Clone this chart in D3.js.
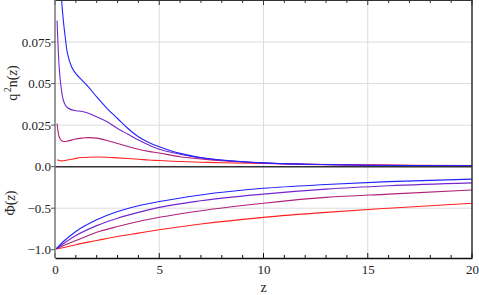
<!DOCTYPE html>
<html>
<meta charset="utf-8">
<style>
body { margin: 0; background: #fff; }
</style>
<script src="https://d3js.org/d3.v7.min.js"></script>
<body>
<div id="chart"></div>
<script>
// z grid and readings for the upper panel, q^2 n(z)
var zTop = [0.1, 0.2, 0.3, 0.4, 0.5, 0.6, 0.8, 1.0, 1.3, 1.6, 2.0, 2.5, 3.0, 3.5, 4.0, 4.5, 5, 6, 7, 8, 10, 12, 15, 20];
var nBlue    = [0.16, 0.125, 0.103, 0.088, 0.077, 0.068, 0.060, 0.056, 0.052, 0.048, 0.042, 0.035, 0.029, 0.023, 0.018, 0.0145, 0.012, 0.008, 0.0055, 0.004, 0.0023, 0.0015, 0.0009, 0.0005];
var nPurple  = [0.088, 0.06, 0.047, 0.040, 0.037, 0.0355, 0.0342, 0.0337, 0.0332, 0.0322, 0.030, 0.027, 0.023, 0.0195, 0.016, 0.013, 0.0105, 0.0075, 0.0053, 0.0039, 0.0022, 0.0015, 0.0009, 0.0005];
var nMagenta = [0.026, 0.018, 0.0158, 0.0152, 0.0152, 0.0155, 0.016, 0.0167, 0.0172, 0.0175, 0.0172, 0.0158, 0.014, 0.0121, 0.0105, 0.0092, 0.0082, 0.006, 0.0047, 0.0036, 0.0022, 0.0014, 0.0009, 0.0005];
var nRed     = [0.0042, 0.0037, 0.0035, 0.0036, 0.0038, 0.004, 0.0045, 0.005, 0.0055, 0.0057, 0.0058, 0.0057, 0.0053, 0.0049, 0.0045, 0.004, 0.0037, 0.0031, 0.0027, 0.0024, 0.0019, 0.0015, 0.0011, 0.0007];

// lower panel, Phi(z)
var zBot = [0.05, 0.5, 1, 2, 3, 4, 5, 7, 10, 13, 16, 20];
var phiBlue    = [-0.99, -0.88, -0.78, -0.64, -0.54, -0.47, -0.42, -0.34, -0.26, -0.215, -0.18, -0.15];
var phiPurple  = [-0.99, -0.91, -0.83, -0.71, -0.62, -0.55, -0.49, -0.41, -0.33, -0.27, -0.23, -0.195];
var phiMagenta = [-0.99, -0.94, -0.89, -0.79, -0.72, -0.66, -0.61, -0.53, -0.44, -0.37, -0.33, -0.28];
var phiRed     = [-0.99, -0.97, -0.94, -0.89, -0.84, -0.80, -0.76, -0.69, -0.61, -0.55, -0.50, -0.44];

var colors = ["#2222ff", "#7428cc", "#b02078", "#ff2222"];
var xTicks = [0, 5, 10, 15, 20];
var topTicks = [0.025, 0.05, 0.075];
var botTicks = [-1.0, -0.5];

var serif = "Liberation Serif";
var width = 479, height = 295;
var svg = d3.select("#chart").append("svg")
    .attr("width", width)
    .attr("height", height);

var x = d3.scaleLinear().domain([0, 20]).range([55, 472]);
var yTop = d3.scaleLinear().domain([0, 0.1]).range([166.7, 0.5]);
var yBot = d3.scaleLinear().domain([-1.1, 0]).range([258, 166.7]);

// clip for each panel
svg.append("clipPath").attr("id", "clipTop")
    .append("rect").attr("x", 55).attr("y", 0.5).attr("width", 417).attr("height", 166.2);
svg.append("clipPath").attr("id", "clipBot")
    .append("rect").attr("x", 55).attr("y", 166.7).attr("width", 417).attr("height", 91.3);

// grid lines
var grid = svg.append("g").attr("stroke", "#dcdcdc").attr("stroke-width", 1);
grid.selectAll("line.v").data(xTicks.slice(1)).enter().append("line")
    .attr("x1", d => x(d)).attr("x2", d => x(d))
    .attr("y1", 0).attr("y2", 258);
grid.selectAll("line.ht").data(topTicks).enter().append("line")
    .attr("x1", 55).attr("x2", 472)
    .attr("y1", d => yTop(d)).attr("y2", d => yTop(d));
grid.append("line")
    .attr("x1", 55).attr("x2", 472)
    .attr("y1", yBot(-0.5)).attr("y2", yBot(-0.5));

// curves
var lineTop = d3.line().x((d, i) => x(zTop[i])).y(d => yTop(d)).curve(d3.curveCatmullRom.alpha(0.5));
var lineBot = d3.line().x((d, i) => x(zBot[i])).y(d => yBot(d)).curve(d3.curveMonotoneX);

svg.append("g").attr("clip-path", "url(#clipTop)")
    .selectAll("path").data([nRed, nMagenta, nPurple, nBlue]).enter().append("path")
    .attr("fill", "none")
    .attr("stroke", (d, i) => colors[3 - i])
    .attr("stroke-width", 1.1)
    .attr("d", lineTop);

svg.append("g").attr("clip-path", "url(#clipBot)")
    .selectAll("path").data([phiRed, phiMagenta, phiPurple, phiBlue]).enter().append("path")
    .attr("fill", "none")
    .attr("stroke", (d, i) => colors[3 - i])
    .attr("stroke-width", 1.1)
    .attr("d", lineBot);

// frame: top, right, zero line, bottom axis, left axis
var minor = d3.range(0, 21, 1);
svg.append("line").attr("x1", 55).attr("x2", 472).attr("y1", 0.5).attr("y2", 0.5)
    .attr("stroke", "#333").attr("stroke-width", 1.2);
svg.append("line").attr("x1", 472).attr("x2", 472).attr("y1", 0).attr("y2", 258)
    .attr("stroke", "#333").attr("stroke-width", 1.5);
svg.append("line").attr("x1", 55).attr("x2", 472).attr("y1", yTop(0)).attr("y2", yTop(0))
    .attr("stroke", "#333").attr("stroke-width", 1.5);

svg.selectAll("line.tt").data(minor).enter().append("line")
    .attr("x1", d => x(d)).attr("x2", d => x(d))
    .attr("y1", 0).attr("y2", d => d % 5 === 0 ? 5 : 3)
    .attr("stroke", "#333").attr("stroke-width", 1);

var xAxis = svg.append("g")
    .attr("transform", "translate(0,258)")
    .call(d3.axisBottom(x).tickValues(xTicks).tickSize(0).tickPadding(7).tickFormat(d3.format("d")));
xAxis.select(".domain").attr("stroke", "#111").attr("stroke-width", 1.5);
xAxis.selectAll("text")
    .attr("font-family", serif).attr("font-size", 13).attr("fill", "#222");
xAxis.selectAll("line.mt").data(minor).enter().append("line")
    .attr("x1", d => x(d)).attr("x2", d => x(d))
    .attr("y1", 0).attr("y2", d => d % 5 === 0 ? -5 : -3)
    .attr("stroke", "#111").attr("stroke-width", 1);

svg.append("line").attr("x1", 55).attr("x2", 55).attr("y1", 0).attr("y2", 258)
    .attr("stroke", "#777").attr("stroke-width", 1.5);

var fmtTop = d3.format(".3~f");
var topLabels = topTicks.concat([0]);
svg.selectAll("line.lt").data(topLabels).enter().append("line")
    .attr("x1", 51).attr("x2", 55)
    .attr("y1", d => yTop(d)).attr("y2", d => yTop(d))
    .attr("stroke", "#555");
svg.selectAll("text.lt").data(topLabels).enter().append("text")
    .attr("x", 51).attr("y", d => yTop(d) + 4.5)
    .attr("text-anchor", "end").attr("fill", "#222")
    .attr("font-family", serif).attr("font-size", 13)
    .text(d => d === 0 ? "0.0" : fmtTop(d));

svg.selectAll("line.lb").data(botTicks).enter().append("line")
    .attr("x1", 51).attr("x2", 55)
    .attr("y1", d => yBot(d)).attr("y2", d => yBot(d))
    .attr("stroke", "#555");
svg.selectAll("text.lb").data(botTicks).enter().append("text")
    .attr("x", 51).attr("y", d => yBot(d) + 4.5)
    .attr("text-anchor", "end").attr("fill", "#222")
    .attr("font-family", serif).attr("font-size", 13)
    .text(d => "\u2212" + Math.abs(d).toFixed(1));

// axis titles
var t1 = svg.append("text").attr("transform", "translate(17,83) rotate(-90)")
    .attr("text-anchor", "middle").attr("fill", "#222")
    .attr("font-family", serif).attr("font-size", 14);
t1.append("tspan").text("q");
t1.append("tspan").attr("dx", 1.5).attr("dy", -6).attr("font-size", 10).text("2");
t1.append("tspan").attr("dy", 6).text("n(");
t1.append("tspan").attr("font-style", "italic").text("z");
t1.append("tspan").text(")");

var t2 = svg.append("text").attr("transform", "translate(15,203) rotate(-90)")
    .attr("text-anchor", "middle").attr("fill", "#222")
    .attr("font-family", serif).attr("font-size", 14);
t2.append("tspan").text("\u03A6(");
t2.append("tspan").attr("font-style", "italic").text("z");
t2.append("tspan").text(")");

svg.append("text").attr("x", x(10)).attr("y", 292).attr("text-anchor", "middle")
    .attr("fill", "#222").attr("font-family", serif).attr("font-size", 14).text("z");
</script>
</body>
</html>
